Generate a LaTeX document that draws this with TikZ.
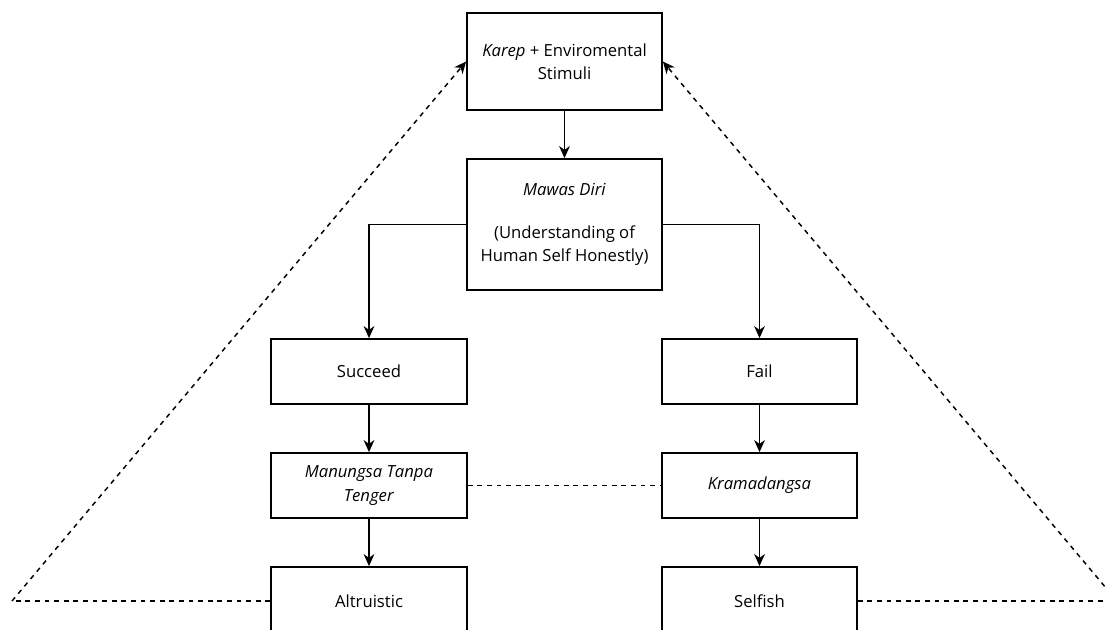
\documentclass[tikz,border=0pt]{standalone}
\usepackage{fontspec}
\setmainfont{Open Sans}
\usetikzlibrary{arrows.meta}
\begin{document}
\begin{tikzpicture}[x=0.75pt,y=-0.75pt,
  box/.style={draw=black,line width=1.3pt,fill=white,align=center,inner sep=2pt,
    font=\fontsize{12.5}{17.5}\selectfont},
  arr/.style={line width=1.3pt,-{Stealth[length=9pt,width=8pt,inset=2.8pt]}},
  dline/.style={line width=1.1pt,dash pattern=on 3.6pt off 3.6pt},
  darr/.style={dline,-{Stealth[length=9pt,width=8pt,inset=2.8pt]}}]
\useasboundingbox (0,0) rectangle (1105,629);
\clip (0,0) rectangle (1105,629);
% nodes
\node[box,minimum width=195*0.75pt,minimum height=97*0.75pt] (top) at (564.5,61.5) {\textit{Karep} + Enviromental\\Stimuli};
\node[box,minimum width=195*0.75pt,minimum height=131*0.75pt] (mawas) at (564.5,224.5) {\raisebox{-2pt}{\textit{Mawas Diri}}\\[17pt](Understanding of\\Human Self Honestly)};
\node[box,minimum width=196*0.75pt,minimum height=65*0.75pt] (succ) at (369,371.5) {Succeed};
\node[box,minimum width=195*0.75pt,minimum height=65*0.75pt] (fail) at (759.5,371.5) {Fail};
\node[box,minimum width=196*0.75pt,minimum height=65*0.75pt] (manu) at (369,485.5) {\textit{Manungsa Tanpa}\\\textit{Tenger}};
\node[box,minimum width=195*0.75pt,minimum height=65*0.75pt] (kram) at (759.5,485.5) {\textit{Kramadangsa}};
\node[box,minimum width=196*0.75pt,minimum height=68*0.75pt] (altr) at (369,601) {Altruistic};
\node[box,minimum width=195*0.75pt,minimum height=68*0.75pt] (self) at (759.5,601) {Selfish};
\coordinate (lc) at (12,601);
\coordinate (rc) at (1117,601);
% connectors
\draw[arr] (top) -- (mawas);
\draw[arr] (mawas.west) -| (succ.north);
\draw[arr] (mawas.east) -| (fail.north);
\draw[arr] (succ) -- (manu);
\draw[arr] (fail) -- (kram);
\draw[arr] (manu) -- (altr);
\draw[arr] (kram) -- (self);
\draw[dline] (manu) -- (kram);
\draw[dline] (altr.west) -- (lc);
\draw[darr] (lc) -- (top.west);
\draw[dline] (self.east) -- (rc);
\draw[darr] (rc) -- (top.east);
\end{tikzpicture}
\end{document}
